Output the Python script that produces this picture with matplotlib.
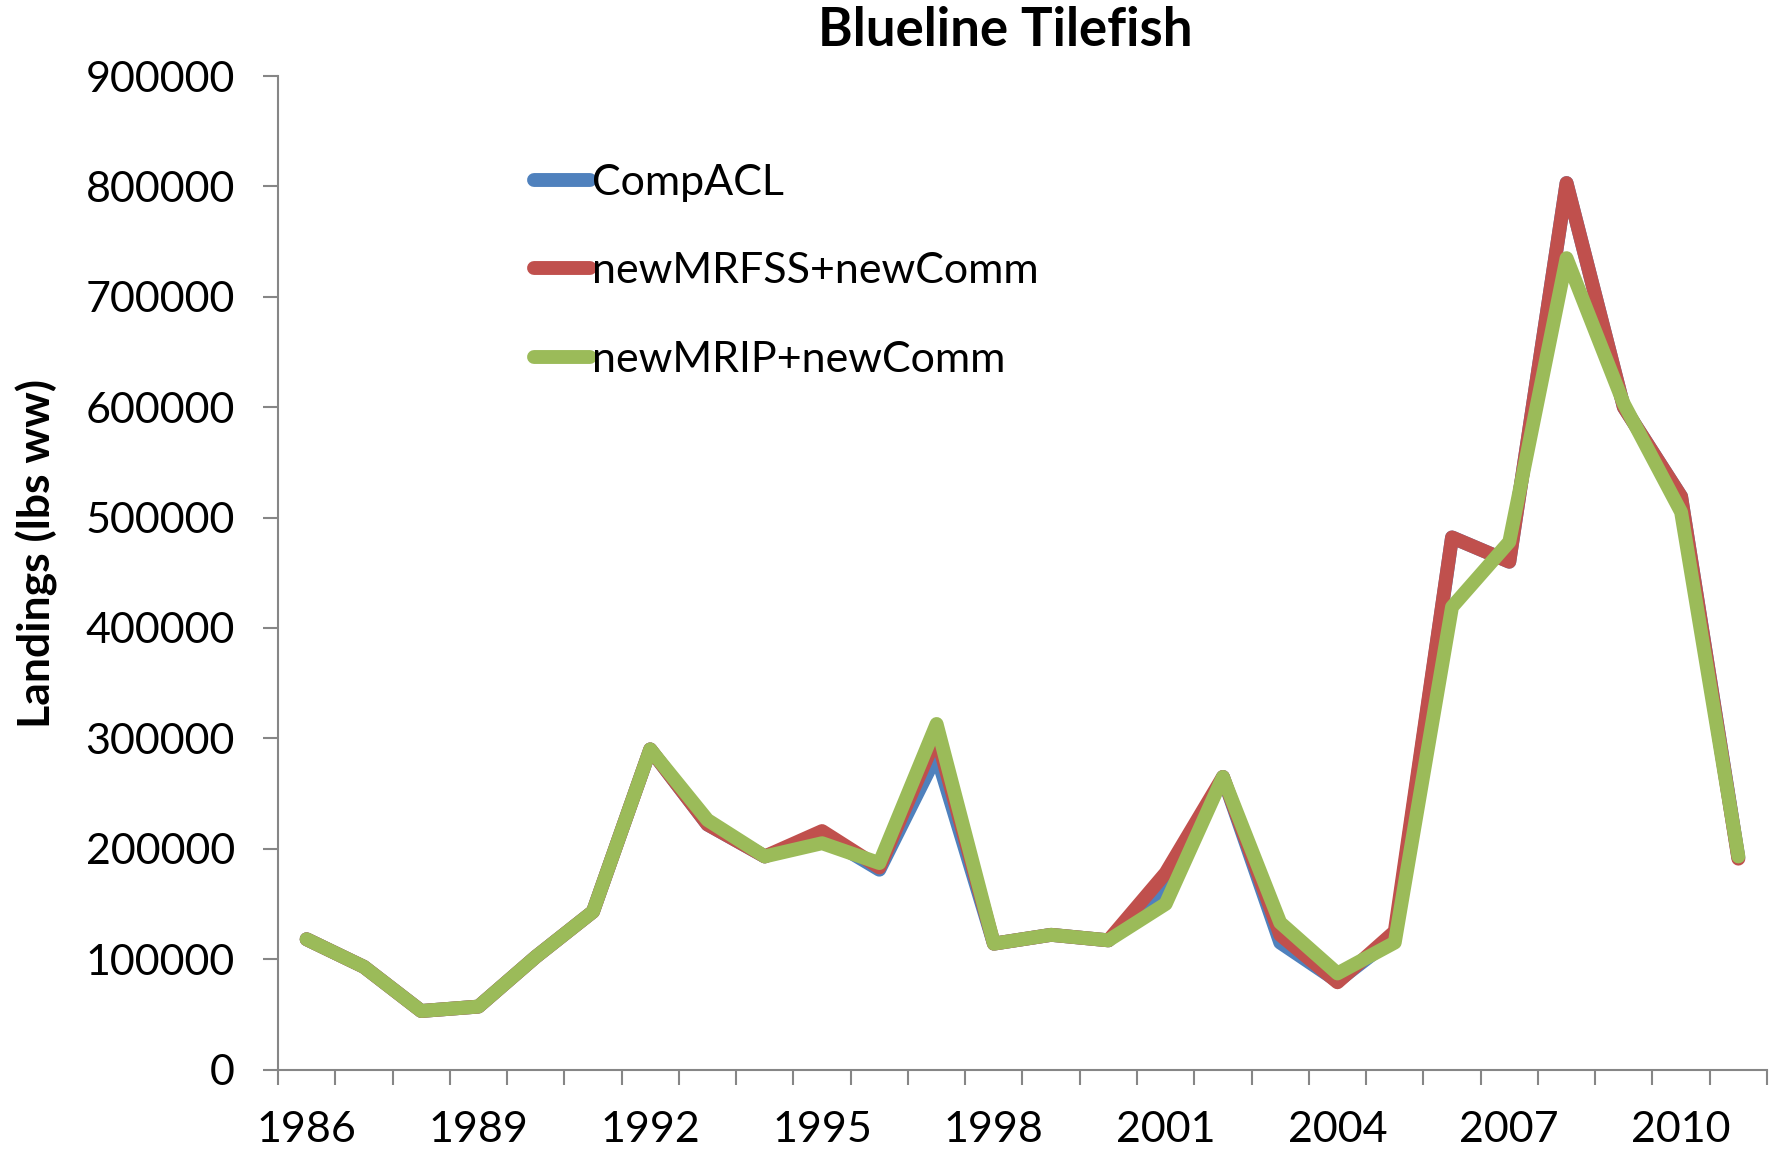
import matplotlib
matplotlib.use("Agg")
import matplotlib.pyplot as plt
from matplotlib.ticker import FixedLocator, NullFormatter

years = list(range(1986, 2012))
comp_acl = [118000, 93000, 53000, 57000, 102000, 143000, 290000, 222000, 193000, 212000,
            181000, 285000, 114000, 122000, 117000, 160000, 265000, 115000, 80000, 120000,
            482000, 460000, 803000, 600000, 519000, 192000]
new_mrfss = [118000, 93000, 53000, 57000, 102000, 143000, 290000, 222000, 193000, 216000,
             183000, 302000, 114000, 122000, 117000, 178000, 265000, 122000, 79000, 125000,
             482000, 460000, 803000, 600000, 519000, 191000]
new_mrip = [118000, 93000, 53000, 57000, 102000, 143000, 290000, 226000, 193000, 205000,
            187000, 313000, 114000, 122000, 117000, 150000, 265000, 133000, 87000, 115000,
            419000, 478000, 735000, 603000, 505000, 193000]
series_names = ["CompACL", "newMRFSS+newComm", "newMRIP+newComm"]
colors = ["#4F81BD", "#C0504D", "#9BBB59"]
tick_years = [1986, 1989, 1992, 1995, 1998, 2001, 2004, 2007, 2010]

plt.rcParams['font.family'] = ['Lato', 'DejaVu Sans']

W, H = 1781, 1152
fig = plt.figure(figsize=(W / 100, H / 100), dpi=100)
ax = fig.add_axes([278 / W, (H - 1069.5) / H, (1767 - 278) / W, (1069.5 - 76) / H])

x = list(range(len(years)))
for vals, name, c in zip([comp_acl, new_mrfss, new_mrip], series_names, colors):
    ax.plot(x, vals, color=c, lw=10, label=name, solid_capstyle='round',
            solid_joinstyle='round')

ax.set_xlim(-0.5, len(years) - 0.5)
ax.set_ylim(0, 900000)
ax.set_yticks(range(0, 900001, 100000))
ax.set_yticklabels([str(v) for v in range(0, 900001, 100000)])

ax.xaxis.set_major_locator(FixedLocator([years.index(y) for y in tick_years]))
ax.set_xticklabels([str(y) for y in tick_years])
ax.xaxis.set_minor_locator(FixedLocator([i - 0.5 for i in range(len(years) + 1)]))
ax.xaxis.set_minor_formatter(NullFormatter())

for s in ['top', 'right']:
    ax.spines[s].set_visible(False)
for s in ['left', 'bottom']:
    ax.spines[s].set_color('#868686')
    ax.spines[s].set_linewidth(1.5)

ax.tick_params(axis='x', which='major', length=0, pad=30, labelsize=31)
ax.tick_params(axis='x', which='minor', length=11, width=1.5, color='#868686', direction='out')
ax.tick_params(axis='y', which='major', length=11, width=1.5, color='#868686',
               direction='out', pad=20, labelsize=31)

ax.set_ylabel("Landings (lbs ww)", fontsize=32, fontweight='bold')
ax.yaxis.set_label_coords(58 / W, 1 - 554 / H, transform=fig.transFigure)

fig.text(1005 / W, 1 - 31 / H, "Blueline Tilefish", fontsize=38, fontweight='bold',
         ha='center', va='center')

leg = ax.legend(loc='upper left', bbox_to_anchor=(534 / W, 1 - 164 / H),
                bbox_transform=fig.transFigure, frameon=False, fontsize=31,
                handlelength=1.3, handletextpad=0.05, labelspacing=1.17,
                borderpad=0, borderaxespad=0)
for line in leg.get_lines():
    line.set_linewidth(10)
    line.set_solid_capstyle('round')

fig.savefig("out.png", dpi=100)
